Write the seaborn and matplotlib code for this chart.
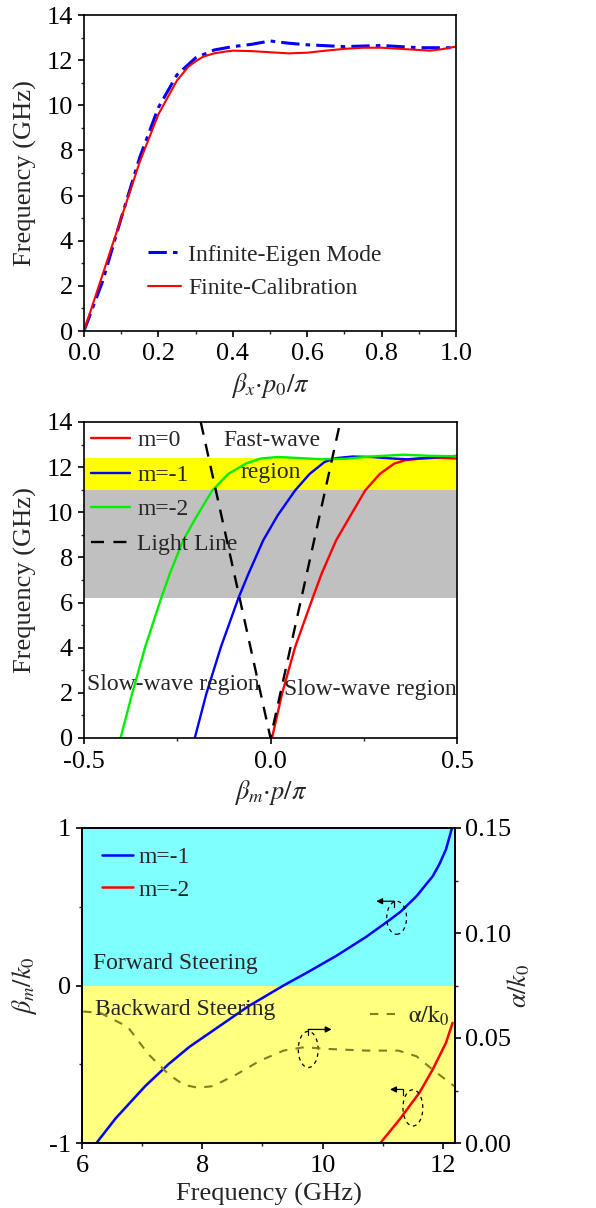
import numpy as np
import pandas as pd
import matplotlib
matplotlib.use("Agg")
import matplotlib.pyplot as plt
import seaborn as sns
from matplotlib.patches import Ellipse
from matplotlib.lines import Line2D

sns.set_theme(style="ticks")
plt.rcParams['font.family'] = ['Liberation Serif', 'DejaVu Serif']
plt.rcParams['mathtext.fontset'] = 'stix'
plt.rcParams['axes.linewidth'] = 1.2
TICK_FS = 19
LAB_FS = 19
TXT_FS = 17

# ---------------- Panel 1 data ----------------
p1_x_red = [0.0, 0.05, 0.1, 0.15, 0.2, 0.25, 0.28, 0.3, 0.32, 0.35, 0.38, 0.4, 0.45, 0.5, 0.55, 0.6, 0.65, 0.7, 0.75, 0.8, 0.85, 0.9, 0.93, 0.96, 1.0]
p1_y_red = [0.0, 2.5, 5.0, 7.5, 9.6, 11.1, 11.7, 11.95, 12.15, 12.3, 12.38, 12.42, 12.4, 12.35, 12.3, 12.33, 12.42, 12.5, 12.55, 12.55, 12.5, 12.45, 12.42, 12.48, 12.6]
p1_x_blue = [0.0, 0.05, 0.1, 0.15, 0.2, 0.25, 0.3, 0.35, 0.4, 0.45, 0.5, 0.55, 0.6, 0.7, 0.8, 0.9, 1.0]
p1_y_blue = [0.0, 2.2, 5.0, 7.7, 9.9, 11.35, 12.1, 12.45, 12.6, 12.7, 12.85, 12.75, 12.68, 12.6, 12.65, 12.55, 12.55]

# ---------------- Panel 2 data ----------------
p2_m2_x = [-0.402, -0.371, -0.336, -0.293, -0.27, -0.234, -0.199, -0.156, -0.113, -0.066, -0.027, 0.02, 0.08, 0.137, 0.2, 0.254, 0.3, 0.356, 0.43, 0.5]
p2_m2_f = [0.0, 1.96, 4.03, 6.2, 7.28, 8.76, 9.79, 10.97, 11.7, 12.16, 12.38, 12.45, 12.4, 12.35, 12.37, 12.45, 12.5, 12.55, 12.5, 12.48]
p2_m1_x = [-0.203, -0.172, -0.133, -0.086, -0.059, -0.0195, 0.0195, 0.066, 0.105, 0.145, 0.176, 0.22, 0.27, 0.33, 0.365, 0.43, 0.5]
p2_m1_f = [0.0, 1.96, 4.03, 6.2, 7.28, 8.76, 9.87, 10.97, 11.7, 12.23, 12.4, 12.47, 12.45, 12.38, 12.35, 12.42, 12.5]
p2_m0_x = [0.004, 0.031, 0.066, 0.113, 0.137, 0.176, 0.215, 0.254, 0.293, 0.332, 0.36, 0.4, 0.45, 0.5]
p2_m0_f = [0.0, 1.96, 4.03, 6.2, 7.28, 8.76, 9.87, 10.97, 11.7, 12.16, 12.3, 12.38, 12.42, 12.38]
light_x = [-0.187, 0.0, 0.187]
light_f = [14.0, 0.0, 14.0]
band_yellow = (11.0, 12.4)
band_gray = (6.2, 11.0)

# ---------------- Panel 3 data ----------------
p3_m1_f = [6.24, 6.56, 7.05, 7.44, 7.78, 8.27, 8.76, 9.35, 9.74, 10.23, 10.72, 11.11, 11.3, 11.56, 11.83, 11.94, 12.05, 12.15]
p3_m1_b = [-1.0, -0.843, -0.639, -0.499, -0.391, -0.262, -0.133, 0.0, 0.082, 0.189, 0.308, 0.415, 0.47, 0.567, 0.694, 0.77, 0.864, 1.0]
p3_m2_f = [10.96, 11.28, 11.61, 11.83, 12.05, 12.16]
p3_m2_b = [-1.0, -0.85, -0.68, -0.533, -0.364, -0.237]
p3_a_f = [6.02, 6.3, 6.76, 7.1, 7.44, 7.69, 7.93, 8.18, 8.57, 8.96, 9.35, 9.69, 10.08, 10.72, 11.26, 11.56, 11.83, 12.19]
p3_a = [0.0626, 0.062, 0.0553, 0.0424, 0.0327, 0.0277, 0.0263, 0.0271, 0.0327, 0.0392, 0.044, 0.0456, 0.0448, 0.044, 0.044, 0.0413, 0.0349, 0.027]

W, H = 596, 1208
fig = plt.figure(figsize=(W / 100, H / 100), dpi=100)


def style_ax(ax):
    for s in ax.spines.values():
        s.set_color('black')
        s.set_linewidth(1.2)
    ax.tick_params(axis='both', which='major', direction='out', length=4, width=1.2,
                   labelsize=TICK_FS, colors='black', top=False, right=False)
    ax.tick_params(axis='x', which='major', pad=5)
    ax.tick_params(axis='y', which='major', pad=4)
    ax.tick_params(axis='both', which='minor', direction='out', length=2.5, width=1.0,
                   top=False, right=False)
    ax.grid(False)


LEG_KW = dict(frameon=False, fontsize=TXT_FS, borderaxespad=0, borderpad=0)

# ---------- Panel 1 ----------
ax1 = fig.add_axes([84 / W, 1 - 331 / H, 372 / W, 316 / H])
sns.lineplot(x=p1_x_blue, y=p1_y_blue, ax=ax1, color='#0000ff', lw=2.2, sort=False,
             linestyle=(0, (6, 2, 1.5, 2)), label='Infinite-Eigen Mode')
sns.lineplot(x=p1_x_red, y=p1_y_red, ax=ax1, color='#ff0000', lw=1.5, sort=False,
             label='Finite-Calibration')
ax1.set_xlim(0, 1)
ax1.set_ylim(0, 14)
ax1.set_xticks([0, 0.2, 0.4, 0.6, 0.8, 1.0])
ax1.set_xticklabels(['0.0', '0.2', '0.4', '0.6', '0.8', '1.0'])
ax1.set_xticks([0.1, 0.3, 0.5, 0.7, 0.9], minor=True)
ax1.set_yticks(range(0, 15, 2))
ax1.set_yticks(range(1, 14, 2), minor=True)
ax1.set_ylabel('Frequency (GHz)', fontsize=LAB_FS, labelpad=7)
ax1.set_xlabel(r'$\beta_x{\cdot}p_0/\pi$', fontsize=LAB_FS, labelpad=4)
style_ax(ax1)
ax1.legend(loc='upper left', bbox_to_anchor=(0.172, 0.275), handlelength=1.4,
           handletextpad=0.3, labelspacing=0.5, **LEG_KW)

# ---------- Panel 2 ----------
ax2 = fig.add_axes([84 / W, 1 - 738 / H, 373 / W, 316 / H])
ax2.axhspan(*band_gray, color='#c0c0c0', lw=0, zorder=0)
ax2.axhspan(*band_yellow, color='#ffff00', lw=0, zorder=0)
sns.lineplot(x=p2_m0_x, y=p2_m0_f, ax=ax2, color='#ff0000', lw=1.7, sort=False, label='m=0')
sns.lineplot(x=p2_m1_x, y=p2_m1_f, ax=ax2, color='#0000ff', lw=1.7, sort=False, label='m=-1')
sns.lineplot(x=p2_m2_x, y=p2_m2_f, ax=ax2, color='#00ee00', lw=1.7, sort=False, label='m=-2')
sns.lineplot(x=light_x, y=light_f, ax=ax2, color='black', lw=1.7, sort=False,
             linestyle=(0, (5.5, 4)), label='Light Line')
ax2.set_xlim(-0.5, 0.5)
ax2.set_ylim(0, 14)
ax2.set_xticks([-0.5, 0.0, 0.5])
ax2.set_xticklabels(['-0.5', '0.0', '0.5'])
ax2.set_xticks([-0.25, 0.25], minor=True)
ax2.set_yticks(range(0, 15, 2))
ax2.set_yticks(range(1, 14, 2), minor=True)
ax2.set_ylabel('Frequency (GHz)', fontsize=LAB_FS, labelpad=7)
ax2.set_xlabel(r'$\beta_m{\cdot}p/\pi$', fontsize=LAB_FS, labelpad=4)
style_ax(ax2)
ax2.legend(loc='upper left', bbox_to_anchor=(0.019, 0.975), handlelength=1.65,
           handletextpad=0.3, labelspacing=0.55, **LEG_KW)
ax2.text(-0.126, 13.2, 'Fast-wave', fontsize=TXT_FS, va='center', ha='left')
ax2.text(-0.081, 11.75, 'region', fontsize=TXT_FS, va='center', ha='left')
ax2.text(-0.491, 2.35, 'Slow-wave region', fontsize=TXT_FS, va='center', ha='left')
ax2.text(0.035, 2.15, 'Slow-wave region', fontsize=TXT_FS, va='center', ha='left')

# ---------- Panel 3 ----------
ax3 = fig.add_axes([82 / W, 1 - 1143 / H, 373 / W, 315 / H])
ax3.set_xlim(6, 12.2)
ax3.set_ylim(-1, 1)
ax3.axhspan(0, 1, color='#80ffff', lw=0, zorder=0)
ax3.axhspan(-1, 0, color='#ffff80', lw=0, zorder=0)
sns.lineplot(x=p3_m1_f, y=p3_m1_b, ax=ax3, color='#0000ff', lw=1.8, sort=False, label='m=-1')
sns.lineplot(x=p3_m2_f, y=p3_m2_b, ax=ax3, color='#ff0000', lw=1.8, sort=False, label='m=-2')
ax3.set_xticks([6, 8, 10, 12])
ax3.set_xticks([7, 9, 11], minor=True)
ax3.set_yticks([-1, 0, 1])
ax3.set_yticklabels(['-1', '0', '1'])
ax3.set_yticks([-0.5, 0.5], minor=True)
ax3.set_xlabel('Frequency (GHz)', fontsize=LAB_FS, labelpad=4)
ax3.set_ylabel(r'$\beta_m/k_0$', fontsize=LAB_FS, labelpad=7)
style_ax(ax3)
ax3.legend(loc='upper left', bbox_to_anchor=(0.054, 0.94), handlelength=1.3,
           handletextpad=0.25, labelspacing=0.45, **LEG_KW)
ax3.text(6.19, 0.14, 'Forward Steering', fontsize=TXT_FS, va='center', ha='left')
ax3.text(6.21, -0.15, 'Backward Steering', fontsize=TXT_FS, va='center', ha='left')

ax3r = ax3.twinx()
sns.lineplot(x=p3_a_f, y=p3_a, ax=ax3r, color='#808020', lw=1.5, sort=False,
             linestyle=(0, (4, 4)), legend=False)
ax3r.set_ylim(0, 0.15)
ax3r.set_yticks([0, 0.05, 0.10, 0.15])
ax3r.set_yticklabels(['0.00', '0.05', '0.10', '0.15'])
ax3r.set_yticks([0.025, 0.075, 0.125], minor=True)
for s in ax3r.spines.values():
    s.set_color('black')
    s.set_linewidth(1.2)
ax3r.tick_params(axis='y', which='major', direction='out', length=4, width=1.2,
                 labelsize=TICK_FS, colors='black', left=False, right=True, pad=3)
ax3r.tick_params(axis='y', which='minor', direction='out', length=2.5, width=1.0,
                 left=False, right=True)
ax3r.grid(False)
ax3r.set_ylabel(r'$\alpha/k_0$', fontsize=LAB_FS, labelpad=-4)
ax3r.legend(handles=[Line2D([], [], color='#808020', lw=1.5, linestyle=(0, (4, 4)))],
            labels=[r'$\mathrm{\alpha/k_0}$'], loc='center right',
            bbox_to_anchor=(0.985, 0.405), handlelength=1.1, handletextpad=0.5, **LEG_KW)

# annotation ellipses and arrows (data coordinates of left axis)
ann = [  # (cx, cy, w, h, arrow_y, x_from, x_to)
    (11.23, 0.43, 0.33, 0.21, 0.535, 11.19, 10.89),
    (9.76, -0.406, 0.33, 0.23, -0.279, 9.76, 10.15),
    (11.50, -0.777, 0.33, 0.23, -0.66, 11.33, 11.12),
]
for cx, cy, w, h, ay, xf, xt in ann:
    ax3.add_patch(Ellipse((cx, cy), w, h, fill=False, ls=(0, (3, 3)), lw=0.9,
                          ec='black', zorder=5))
    ax3.annotate('', xy=(xt, ay), xytext=(xf, ay),
                 arrowprops=dict(arrowstyle='-|>', color='black', lw=0.9,
                                 mutation_scale=9, shrinkA=0, shrinkB=0), zorder=6)
    ax3.plot([xf, xf], [ay, ay - 0.035], color='black', lw=0.9, zorder=6)

fig.savefig('out.png', dpi=100)
